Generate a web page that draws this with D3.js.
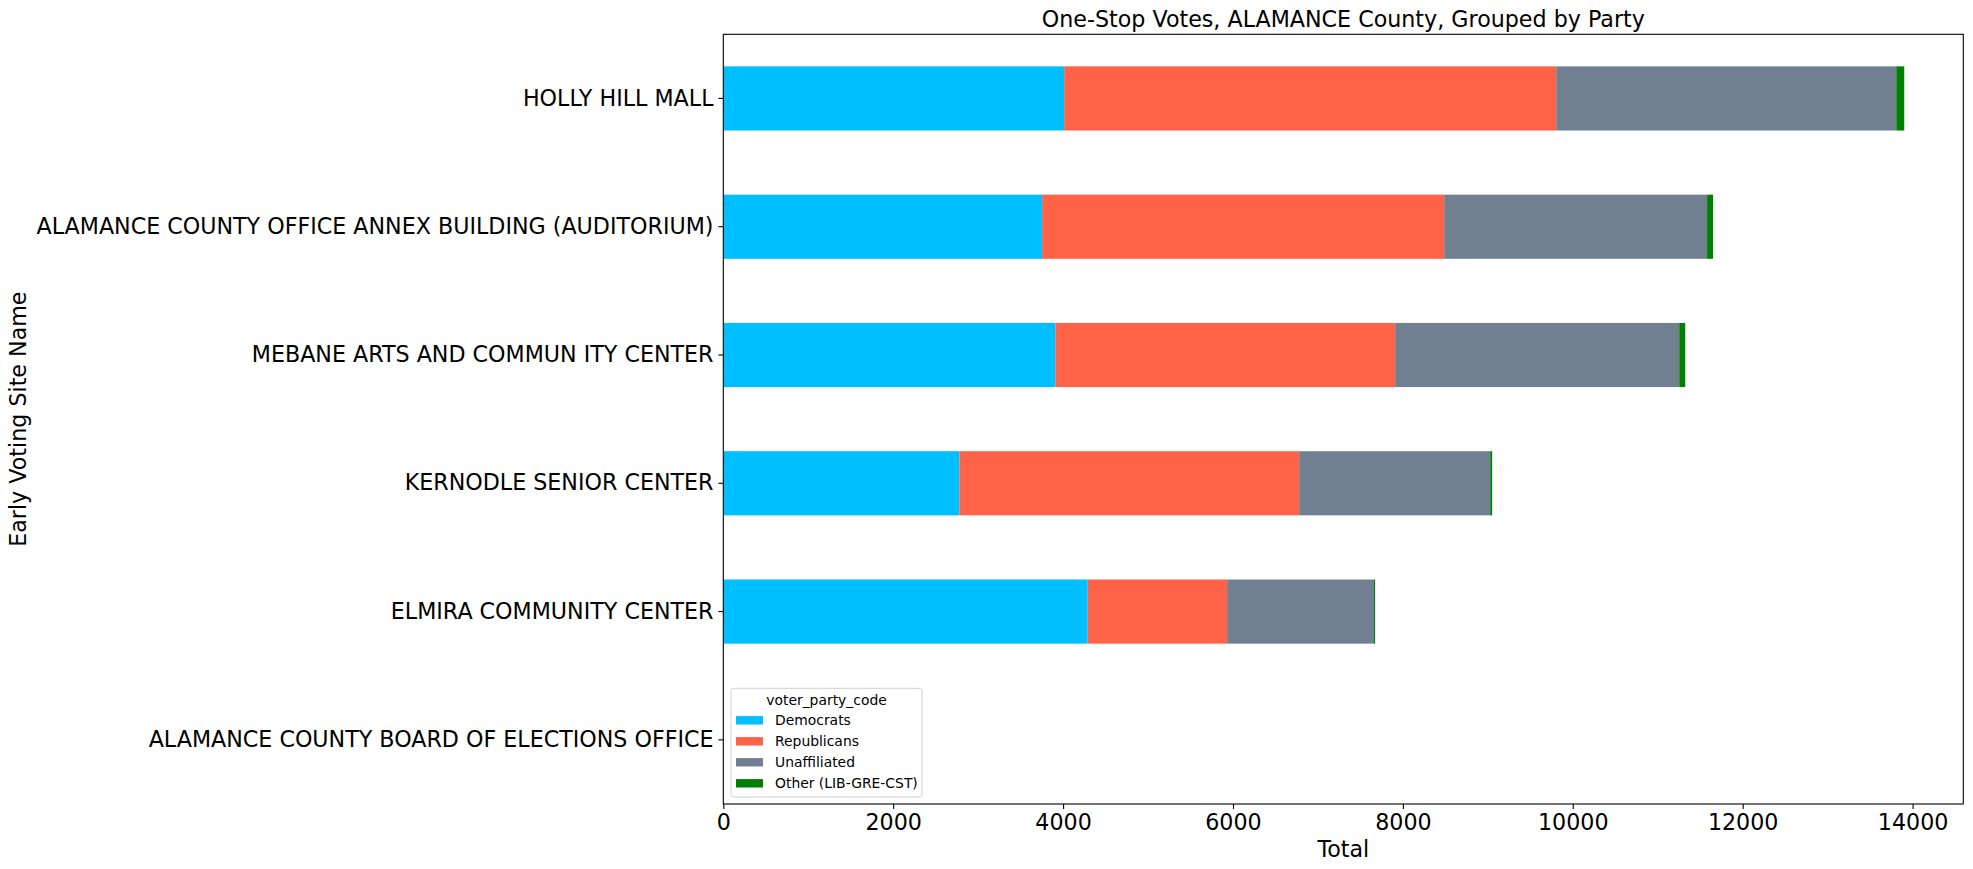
<!DOCTYPE html>
<html><head><meta charset="utf-8">
<script src="https://cdn.jsdelivr.net/npm/d3@7"></script>
<style>
body{margin:0;background:#fff;}
svg{display:block;font-family:"DejaVu Sans",sans-serif;}
</style></head><body>
<svg id="chart" width="1973" height="869"></svg>
<script>
// Data (top to bottom)
const sites = [
  "HOLLY HILL MALL",
  "ALAMANCE COUNTY OFFICE ANNEX BUILDING (AUDITORIUM)",
  "MEBANE ARTS AND COMMUN ITY CENTER",
  "KERNODLE SENIOR CENTER",
  "ELMIRA COMMUNITY CENTER",
  "ALAMANCE COUNTY BOARD OF ELECTIONS OFFICE"
];
const parties = ["Democrats", "Republicans", "Unaffiliated", "Other (LIB-GRE-CST)"];
const democrats    = [4012, 3753, 3909, 2779, 4290, 0];
const republicans  = [5793, 4733, 4000, 4000, 1641, 0];
const unaffiliated = [4003, 3095, 3344, 2249, 1729, 0];
const other        = [94,   71,   71,   23,   13,   0];
const xTicks = [0, 2000, 4000, 6000, 8000, 10000, 12000, 14000];
const colors = ["#00BFFF", "#FF6347", "#708090", "#008000"];

const rows = sites.map((s, i) => ({
  site: s,
  "Democrats": democrats[i],
  "Republicans": republicans[i],
  "Unaffiliated": unaffiliated[i],
  "Other (LIB-GRE-CST)": other[i]
}));

const svg = d3.select("#chart");
const L = 723.3, R = 1963.3, T = 34.3, B = 804;
const FS = 22.2;
const maxTotal = d3.max(rows, r => parties.reduce((a, p) => a + r[p], 0));
const x = d3.scaleLinear().domain([0, maxTotal * 1.05]).range([L, R]);
const y = d3.scaleBand().domain(sites).range([T, B]).paddingInner(0.5).paddingOuter(0.25);
const color = d3.scaleOrdinal().domain(parties).range(colors);

const stack = d3.stack().keys(parties)(rows);
svg.append("g").selectAll("g").data(stack).join("g")
  .attr("fill", d => color(d.key))
  .selectAll("rect").data(d => d).join("rect")
  .attr("x", d => x(d[0]))
  .attr("width", d => Math.max(0, x(d[1]) - x(d[0])))
  .attr("y", d => y(d.data.site))
  .attr("height", y.bandwidth());

// Axes
const xAxis = svg.append("g").attr("transform", `translate(0,${B})`)
  .call(d3.axisBottom(x).tickValues(xTicks).tickFormat(d3.format("d")).tickSizeOuter(0).tickSize(4.9).tickPadding(4.9));
const yAxis = svg.append("g").attr("transform", `translate(${L},0)`)
  .call(d3.axisLeft(y).tickSizeOuter(0).tickSize(4.9).tickPadding(4.9));
[xAxis, yAxis].forEach(a => {
  a.select(".domain").remove();
  a.selectAll("line").attr("stroke", "#000").attr("stroke-width", 1.1);
  a.selectAll("text").attr("font-size", FS).attr("fill", "#000").attr("font-family", "DejaVu Sans");
});

// Frame
svg.append("rect").attr("x", L).attr("y", T).attr("width", R - L).attr("height", B - T)
  .attr("fill", "none").attr("stroke", "#000").attr("stroke-width", 1.1);

// Title and labels
svg.append("text").attr("x", (L + R) / 2).attr("y", 27).attr("text-anchor", "middle")
  .attr("font-size", FS).text("One-Stop Votes, ALAMANCE County, Grouped by Party");
svg.append("text").attr("x", (L + R) / 2).attr("y", 857).attr("text-anchor", "middle")
  .attr("font-size", FS).text("Total");
svg.append("text").attr("transform", `translate(26,${(T + B) / 2}) rotate(-90)`)
  .attr("text-anchor", "middle").attr("font-size", FS).text("Early Voting Site Name");

// Legend
const lg = svg.append("g");
lg.append("rect").attr("x", 731).attr("y", 688.3).attr("width", 191).attr("height", 108.7)
  .attr("rx", 3).attr("fill", "#fff").attr("fill-opacity", 0.8).attr("stroke", "#d0d0d0");
lg.append("text").attr("x", 826.5).attr("y", 705).attr("text-anchor", "middle")
  .attr("font-size", 13.9).text("voter_party_code");
parties.forEach((p, i) => {
  const cy = 720.3 + i * 21;
  lg.append("rect").attr("x", 736).attr("y", cy - 4.2).attr("width", 27).attr("height", 8.4).attr("fill", color(p));
  lg.append("text").attr("x", 775).attr("y", cy + 5).attr("font-size", 13.9).text(p);
});
</script>
</body></html>
